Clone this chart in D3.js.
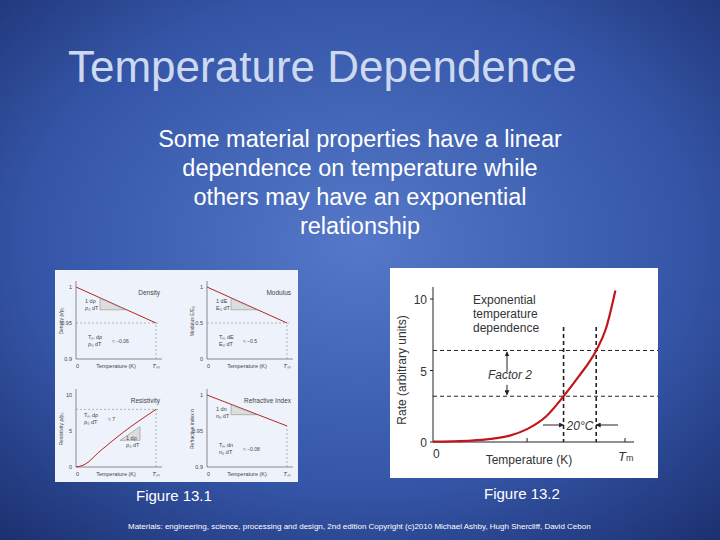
<!DOCTYPE html><html><head><meta charset="utf-8">
<script src="https://cdn.jsdelivr.net/npm/d3@7"></script>
<style>body{margin:0}svg{display:block}</style></head><body>
<svg id="s" width="720" height="540"></svg>
<script>
const titleText="Temperature Dependence";
const subtitleLines=["Some material properties have a linear","dependence on temperature while","others may have an exponential","relationship"];
const expTemps=[0,10,20,30,40,49,59,68,76,85,90,95];
const expRates=[0.03,0.05,0.1,0.22,0.45,0.9,1.8,3.2,4.6,6.4,7.9,10.6];
const expYTicks=[0,5,10];
const factorLevels=[3.2,6.4];
const factorTemps=[68,85];
const smallPanels=[
 {name:"Density",ylab:"Density ρ/ρ₀",domain:[0.9,1],ticks:[0.9,0.95,1],tickLabels:["0.9","0.95","1"],line:[[0,1],[1,0.95]],ref:0.95,note:["Tₘ dρ","ρ₀ dT"],noteVal:"≈ −0.06",slope:["1  dρ","ρ₀ dT"]},
 {name:"Modulus",ylab:"Modulus E/E₀",domain:[0,1],ticks:[0,0.5,1],tickLabels:["0","0.5","1"],line:[[0,1],[1,0.5]],ref:0.5,note:["Tₘ dE","E₀ dT"],noteVal:"≈ −0.5",slope:["1  dE","E₀ dT"]},
 {name:"Resistivity",ylab:"Resistivity ρ/ρ₀",domain:[0,10],ticks:[0,5,10],tickLabels:["0","5","10"],line:[[0,0],[0.1,0.3],[0.3,2.2],[0.6,4.9],[1,8]],ref:8,note:["Tₘ dρ","ρ₀ dT"],noteVal:"≈ 7",slope:["1  dρ","ρ₀ dT"]},
 {name:"Refractive Index",ylab:"Refractive index n",domain:[0.9,1],ticks:[0.9,0.95,1],tickLabels:["0.9","0.95","1"],line:[[0,1],[1,0.957]],ref:null,note:["Tₘ dn","n₀ dT"],noteVal:"≈ −0.08",slope:["1  dn","n₀ dT"]}
];
const svg=d3.select("#s");
const defs=svg.append("defs");
const g=defs.append("radialGradient").attr("id","bg").attr("cx","50%").attr("cy","45%").attr("r","75%");
g.append("stop").attr("offset","0%").attr("stop-color","#5578c8");
g.append("stop").attr("offset","60%").attr("stop-color","#3556a8");
g.append("stop").attr("offset","100%").attr("stop-color","#1b2f6e");
svg.append("rect").attr("width",720).attr("height",540).attr("fill","url(#bg)");
const F="Liberation Sans, Arial, sans-serif";
svg.append("text").attr("x",68).attr("y",82).attr("font-family",F).attr("font-size",44).attr("fill","#cdd9f0").text(titleText);
subtitleLines.forEach((t,i)=>svg.append("text").attr("x",360).attr("y",147+i*29).attr("text-anchor","middle").attr("font-family",F).attr("font-size",23.5).attr("fill","#fff").text(t));

// right chart
svg.append("rect").attr("x",390).attr("y",268).attr("width",268).attr("height",210).attr("fill","#fff");
const R=svg.append("g");
const x=d3.scaleLinear().domain([0,100]).range([433,625]);
const y=d3.scaleLinear().domain([0,10]).range([442,299]);
R.append("line").attr("x1",x(0)).attr("x2",x(0)).attr("y1",442).attr("y2",287).attr("stroke","#222");
R.append("line").attr("x1",x(0)).attr("x2",634).attr("y1",442).attr("y2",442).attr("stroke","#222");
expYTicks.forEach(v=>{R.append("line").attr("x1",x(0)-3).attr("x2",x(0)).attr("y1",y(v)).attr("y2",y(v)).attr("stroke","#222");
 R.append("text").attr("x",x(0)-6).attr("y",y(v)+5).attr("text-anchor","end").attr("font-family",F).attr("font-size",12).attr("fill","#333").text(v);});
[x(49),x(100)].forEach(px=>R.append("line").attr("x1",px).attr("x2",px).attr("y1",442).attr("y2",438).attr("stroke","#222"));
R.append("text").attr("x",x(0)).attr("y",458).attr("font-family",F).attr("font-size",12).attr("fill","#333").text("0");
R.append("text").attr("x",x(100)-7).attr("y",461).attr("font-family",F).attr("font-size",13).attr("font-style","italic").attr("fill","#333").text("T").append("tspan").attr("font-size",9).attr("font-style","normal").text("m");
R.append("text").attr("x",529).attr("y",464).attr("text-anchor","middle").attr("font-family",F).attr("font-size",12).attr("fill","#333").text("Temperature (K)");
R.append("text").attr("transform","translate(406,370) rotate(-90)").attr("text-anchor","middle").attr("font-family",F).attr("font-size",12).attr("fill","#333").text("Rate (arbitrary units)");
["Exponential","temperature","dependence"].forEach((t,i)=>R.append("text").attr("x",473).attr("y",304+i*14).attr("font-family",F).attr("font-size",12).attr("fill","#333").text(t));
factorLevels.forEach(v=>R.append("line").attr("x1",x(0)).attr("x2",658).attr("y1",y(v)).attr("y2",y(v)).attr("stroke","#222").attr("stroke-dasharray","4,3"));
factorTemps.forEach(t=>R.append("line").attr("x1",x(t)).attr("x2",x(t)).attr("y1",327).attr("y2",442).attr("stroke","#222").attr("stroke-width",1.6).attr("stroke-dasharray","4,3"));
R.append("path").datum(expTemps.map((t,i)=>[t,expRates[i]])).attr("d",d3.line().x(d=>x(d[0])).y(d=>y(d[1])).curve(d3.curveMonotoneX)).attr("fill","none").attr("stroke","#c0161c").attr("stroke-width",2.2);
const mk=defs.append("marker").attr("id","ar").attr("viewBox","0 0 10 10").attr("refX",9).attr("refY",5).attr("markerWidth",5).attr("markerHeight",5).attr("orient","auto");
mk.append("path").attr("d","M0,0L10,5L0,10z").attr("fill","#222");
R.append("line").attr("x1",507).attr("x2",507).attr("y1",y(4.9)).attr("y2",y(6.3)).attr("stroke","#222").attr("marker-end","url(#ar)");
R.append("line").attr("x1",507).attr("x2",507).attr("y1",y(4.0)).attr("y2",y(3.3)).attr("stroke","#222").attr("marker-end","url(#ar)");
R.append("text").attr("x",488).attr("y",379).attr("font-family",F).attr("font-size",12).attr("font-style","italic").attr("fill","#333").text("Factor 2");
R.append("line").attr("x1",543).attr("x2",x(68)).attr("y1",425).attr("y2",425).attr("stroke","#222").attr("marker-end","url(#ar)");
R.append("line").attr("x1",618).attr("x2",x(85)).attr("y1",425).attr("y2",425).attr("stroke","#222").attr("marker-end","url(#ar)");
R.append("text").attr("x",580).attr("y",430).attr("text-anchor","middle").attr("font-family",F).attr("font-size",12).attr("font-style","italic").attr("fill","#333").text("20°C");

// left panels
svg.append("rect").attr("x",55).attr("y",270).attr("width",243).attr("height",212).attr("fill","#eef3fb");
const origins=[[76,359],[207,359],[76,467],[207,467]];
smallPanels.forEach((p,i)=>{
 const [ox,oy]=origins[i];
 const G=svg.append("g");
 const sx=d3.scaleLinear().domain([0,1]).range([ox,ox+80]);
 const sy=d3.scaleLinear().domain(p.domain).range([oy,oy-72]);
 G.append("line").attr("x1",ox).attr("x2",ox).attr("y1",oy).attr("y2",oy-78).attr("stroke","#444").attr("stroke-width",0.6);
 G.append("line").attr("x1",ox).attr("x2",ox+86).attr("y1",oy).attr("y2",oy).attr("stroke","#444").attr("stroke-width",0.6);
 p.ticks.forEach((v,j)=>G.append("text").attr("x",ox-4).attr("y",sy(v)+2).attr("text-anchor","end").attr("font-family",F).attr("font-size",5.5).attr("fill","#444").text(p.tickLabels[j]));
 G.append("text").attr("x",ox).attr("y",oy+9).attr("font-family",F).attr("font-size",5.5).attr("fill","#444").text("0");
 G.append("text").attr("x",sx(1)).attr("y",oy+9).attr("text-anchor","middle").attr("font-family",F).attr("font-size",6).attr("font-style","italic").attr("fill","#444").text("Tₘ");
 G.append("text").attr("x",sx(0.5)).attr("y",oy+9).attr("text-anchor","middle").attr("font-family",F).attr("font-size",5.5).attr("fill","#444").text("Temperature (K)");
 G.append("text").attr("transform",`translate(${ox-13},${oy-38}) rotate(-90)`).attr("text-anchor","middle").attr("font-family",F).attr("font-size",5).attr("fill","#444").text(p.ylab);
 G.append("text").attr("x",sx(1)+4).attr("y",oy-64).attr("text-anchor","end").attr("font-family",F).attr("font-size",6.5).attr("fill","#444").text(p.name);
 G.append("line").attr("x1",sx(1)).attr("x2",sx(1)).attr("y1",oy).attr("y2",sy(p.line[p.line.length-1][1])).attr("stroke","#777").attr("stroke-width",0.5).attr("stroke-dasharray","2,2");
 if(p.ref!==null) G.append("line").attr("x1",ox).attr("x2",sx(1)+4).attr("y1",sy(p.ref)).attr("y2",sy(p.ref)).attr("stroke","#777").attr("stroke-width",0.5).attr("stroke-dasharray","2,2");
 G.append("path").datum(p.line).attr("d",d3.line().x(d=>sx(d[0])).y(d=>sy(d[1])).curve(d3.curveMonotoneX)).attr("fill","none").attr("stroke","#b22").attr("stroke-width",1);
 const a=0.3,b=0.62;
 const ya=d3.scaleLinear().domain([0,1]).range([sy(p.line[0][1]),sy(p.line[p.line.length-1][1])]);
 const tx1=sx(i===2?0.55:a),tx2=sx(i===2?0.8:b);
 const ty1=i===2?sy(3.7):ya(a)+0.5,ty2=i===2?sy(5.6):ya(b)+0.5;
 G.append("path").attr("d",i===2?`M${tx1},${ty1}L${tx2},${ty1}L${tx2},${ty2}Z`:`M${tx1},${ty1}L${tx1},${ty2}L${tx2},${ty2}Z`).attr("fill","#ddd").attr("stroke","#666").attr("stroke-width",0.4);
 const nx=i===2?ox+8:ox+12, ny=i===2?oy-50:oy-20;
 p.note.forEach((t,k)=>G.append("text").attr("x",nx).attr("y",ny+k*7).attr("font-family",F).attr("font-size",5.5).attr("fill","#444").text(t));
 G.append("text").attr("x",nx+24).attr("y",ny+4).attr("font-family",F).attr("font-size",5).attr("fill","#444").text(p.noteVal);
 const lx=i===2?ox+50:ox+9, ly=i===2?oy-27:oy-56;
 p.slope.forEach((t,k)=>G.append("text").attr("x",lx).attr("y",ly+k*7).attr("font-family",F).attr("font-size",5.5).attr("fill","#444").text(t));
});
svg.append("text").attr("x",136).attr("y",501).attr("font-family",F).attr("font-size",15).attr("fill","#fff").text("Figure 13.1");
svg.append("text").attr("x",484).attr("y",499).attr("font-family",F).attr("font-size",15).attr("fill","#fff").text("Figure 13.2");
svg.append("text").attr("x",128).attr("y",529).attr("font-family",F).attr("font-size",8).attr("fill","#fff").text("Materials: engineering, science, processing and design, 2nd edition Copyright (c)2010 Michael Ashby, Hugh Shercliff, David Cebon");
</script></body></html>
